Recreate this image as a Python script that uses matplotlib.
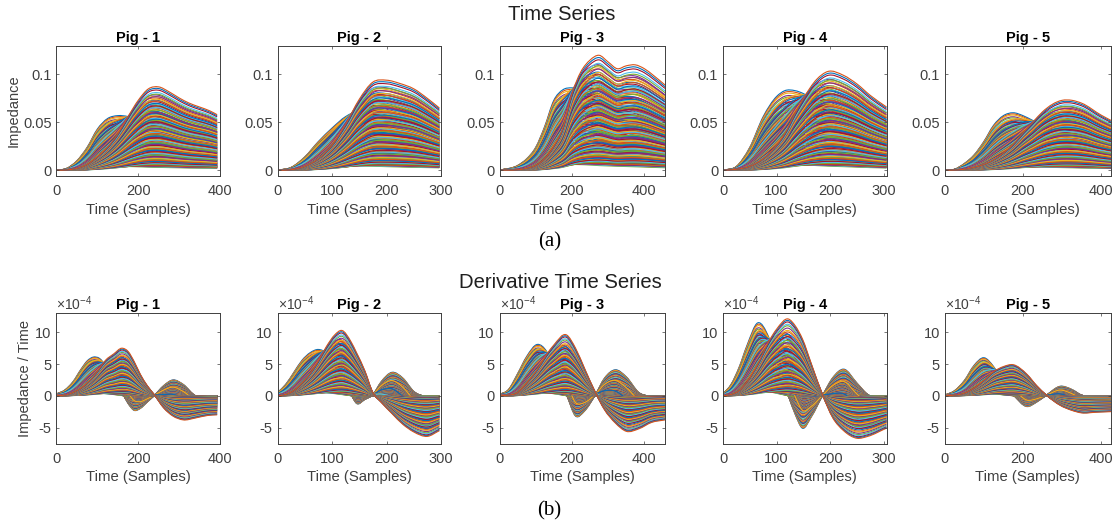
import numpy as np
import matplotlib
matplotlib.use("Agg")
import matplotlib.pyplot as plt
from matplotlib.path import Path
from matplotlib.patches import PathPatch

plt.rcParams['font.family'] = ['Liberation Sans', 'DejaVu Sans']
plt.rcParams['axes.unicode_minus'] = False
plt.rcParams['mathtext.fontset'] = 'custom'
plt.rcParams['mathtext.rm'] = 'Liberation Sans'
plt.rcParams['mathtext.it'] = 'Liberation Sans'

# NOTE: the hundreds of overlapping traces cannot be read one by one. What is read from
# the picture is each panel's two bounding curves (early "S" and late "M"); the line
# family below is an estimated spread between them, not recovered per-trace data.
TITLES = ["Pig - 1", "Pig - 2", "Pig - 3", "Pig - 4", "Pig - 5"]
XLIMS = [400, 300, 457, 305, 425]
XTICKS = [[0, 200, 400], [0, 100, 200, 300], [0, 200, 400], [0, 100, 200, 300], [0, 200, 400]]

# Top row: impedance
P1_X = [0, 25, 50, 75, 100, 125, 150, 175, 200, 225, 250, 275, 300, 325, 350, 375, 393]
P1_S = [0, .002, .010, .024, .043, .054, .057, .056, .052, .047, .043, .040, .037, .034, .032, .030, .028]
P1_M = [0, .0003, .002, .006, .014, .024, .038, .056, .073, .085, .087, .082, .0755, .070, .066, .062, .058]
P2_X = [0, 25, 50, 75, 100, 125, 150, 175, 200, 225, 250, 275, 297]
P2_S = [0, .003, .014, .030, .044, .056, .062, .060, .054, .049, .044, .040, .036]
P2_M = [0, .0005, .004, .012, .026, .048, .074, .092, .094, .0905, .085, .075, .065]
P3_X = [0, 50, 75, 100, 125, 150, 175, 200, 225, 250, 275, 300, 325, 350, 375, 400, 425, 457]
P3_S = [0, .005, .012, .024, .046, .073, .084, .086, .084, .078, .070, .065, .060, .056, .052, .048, .043, .038]
P3_M = [0, .0005, .002, .005, .012, .025, .044, .080, .103, .115, .120, .113, .106, .109, .110, .106, .099, .089]
P4_X = [0, 25, 50, 75, 100, 115, 135, 150, 175, 195, 225, 250, 275, 305]
P4_S = [0, .004, .024, .056, .077, .083, .083, .080, .070, .062, .054, .047, .040, .034]
P4_M = [0, .001, .004, .012, .026, .038, .060, .075, .095, .103, .099, .090, .078, .066]
P5_X = [0, 25, 50, 75, 100, 125, 150, 175, 200, 225, 250, 300, 325, 350, 400, 425]
P5_S = [0, .001, .007, .016, .030, .047, .057, .060, .057, .052, .047, .040, .037, .034, .028, .026]
P5_M = [0, .0002, .001, .003, .006, .011, .018, .027, .039, .050, .061, .073, .073, .070, .0575, .052]

# Bottom row: derivative, in units of 1e-4
D1_X = [0, 20, 40, 60, 75, 90, 105, 120, 140, 160, 175, 190, 205, 222, 240, 262, 285, 310, 340, 370, 393]
D1_S = [.3, .9, 2.2, 4.2, 5.5, 6.1, 5.9, 4.8, 2.8, .6, -1.2, -2.3, -2.0, -1.0, .1, 1.6, 2.5, 1.8, 0, 0, 0]
D1_M = [0, .1, .5, 1.2, 2.0, 3.0, 4.3, 5.6, 6.6, 7.5, 7.0, 5.4, 3.4, 1.6, .1, -1.9, -3.2, -3.8, -3.5, -3.1, -3.0]
D2_X = [0, 15, 30, 45, 60, 75, 90, 105, 118, 135, 145, 160, 175, 190, 210, 230, 250, 275, 297]
D2_S = [.5, 1.8, 3.7, 5.6, 6.8, 7.3, 6.7, 4.8, 2.8, .2, -1.2, -.6, .2, 2.2, 3.7, 2.8, .7, -.2, -.3]
D2_M = [0, .2, .8, 2.0, 3.5, 5.5, 7.8, 9.6, 10.3, 8.5, 6.8, 4.0, .5, -1.0, -2.8, -4.5, -5.7, -6.4, -5.5]
D3_X = [0, 25, 50, 75, 105, 130, 150, 185, 210, 235, 265, 290, 320, 350, 385, 420, 457]
D3_S = [.2, 1.0, 3.5, 6.2, 8.1, 7.0, 4.5, .2, -3.2, -2.4, .2, 2.8, 4.1, 3.0, .5, -.1, -.1]
D3_M = [0, .1, .5, 2.0, 4.2, 6.5, 8.0, 9.6, 7.5, 4.3, .5, -2.2, -4.3, -5.6, -5.2, -4.2, -3.8]
D4_X = [0, 15, 30, 45, 65, 85, 100, 122, 135, 148, 165, 186, 205, 225, 250, 270, 305]
D4_S = [.3, 1.8, 4.5, 8.0, 11.5, 9.3, 5.5, 0, -3.0, -5.1, -3.3, .1, 2.9, 4.2, 2.0, .2, -.3]
D4_M = [0, .2, .8, 2.2, 5.0, 8.5, 10.5, 12.1, 11.0, 9.0, 5.0, .1, -3.5, -5.5, -6.7, -6.4, -5.1]
D5_X = [0, 25, 50, 75, 100, 125, 150, 175, 210, 235, 260, 295, 325, 350, 385, 425]
D5_S = [.1, .8, 2.4, 4.8, 6.0, 4.6, 2.0, .2, -1.7, -1.0, .1, 1.5, 1.0, .1, -.1, -.2]
D5_M = [0, .1, .4, 1.2, 2.4, 3.8, 4.6, 4.9, 3.4, 1.6, .1, -1.5, -2.3, -2.7, -2.6, -2.5]

TOP_CURVES = [(P1_X, P1_S, P1_M), (P2_X, P2_S, P2_M), (P3_X, P3_S, P3_M), (P4_X, P4_S, P4_M), (P5_X, P5_S, P5_M)]
BOT_CURVES = [(D1_X, D1_S, D1_M), (D2_X, D2_S, D2_M), (D3_X, D3_S, D3_M), (D4_X, D4_S, D4_M), (D5_X, D5_S, D5_M)]

# Estimated line family: magnitude levels and shares of the early curve
SCALE = [1.0, .98, .96, .93, .91, .88, .85, .83, .8, .77, .75, .72, .69, .66, .64, .61, .58, .55, .52, .5,
         .47, .44, .41, .39, .36, .33, .31, .28, .26, .24, .22, .2, .18, .16, .14, .12, .105, .09, .08, .07]
EARLY = [1.0, .8, .6, .4, .2, 0.0]

COLORS = ['#0072BD', '#D95319', '#EDB120', '#7E2F8E', '#77AC30', '#4DBEEE', '#A2142F']
GREY = '#404040'
W, H = 1113, 529
AX_X = [(56.5, 220), (277.5, 441), (499.5, 665), (723, 886.5), (944.7, 1111)]


def smooth_path(x, y):
    x = np.asarray(x, float)
    y = np.asarray(y, float)
    m = np.gradient(y, x)
    verts = [(x[0], y[0])]
    codes = [Path.MOVETO]
    for i in range(len(x) - 1):
        d = (x[i + 1] - x[i]) / 3
        verts += [(x[i] + d, y[i] + m[i] * d), (x[i + 1] - d, y[i + 1] - m[i + 1] * d), (x[i + 1], y[i + 1])]
        codes += [Path.CURVE4] * 3
    return Path(verts, codes)


def panel(i, top, bottom, curves, ylim, yticks, yticklabels, ylabel=None, exponent=False):
    x0, x1 = AX_X[i]
    ax = fig.add_axes([x0 / W, 1 - bottom / H, (x1 - x0) / W, (bottom - top) / H])
    xs, early, main = curves
    early = np.asarray(early, float)
    main = np.asarray(main, float)
    k = 0
    for g, w in enumerate(EARLY):
        levels = SCALE if g == 0 else SCALE[::-1]
        for s in levels:
            ys = s * (w * early + (1 - w) * main)
            ax.add_patch(PathPatch(smooth_path(xs, ys), fill=False, edgecolor=COLORS[k % 7], lw=0.8))
            k += 1
    ax.set_xlim(0, XLIMS[i])
    ax.set_ylim(*ylim)
    ax.set_xticks(XTICKS[i])
    ax.set_yticks(yticks)
    ax.set_yticklabels(yticklabels)
    ax.tick_params(direction='in', top=True, right=True, length=2, width=0.5, colors=GREY,
                   labelsize=10.5)
    ax.tick_params(axis='x', pad=5.5)
    ax.tick_params(axis='y', pad=3.5)
    for sp in ax.spines.values():
        sp.set_color(GREY)
        sp.set_linewidth(0.7)
    ax.set_xlabel("Time (Samples)", fontsize=10.7, color=GREY, labelpad=3.5)
    ax.set_title(TITLES[i], fontsize=10.5, fontweight='bold', color='black', pad=3)
    if ylabel:
        ax.set_ylabel(ylabel, fontsize=10.5, color=GREY, labelpad=2)
    if exponent:
        ax.text(0.0, 1.0, r'$\times 10^{-4}$', transform=ax.transAxes, fontsize=10, color=GREY,
                ha='left', va='bottom')
    return ax


fig = plt.figure(figsize=(W / 100, H / 100), dpi=100)
for i in range(5):
    panel(i, 45.7, 176, TOP_CURVES[i], (-0.006, 0.13), [0, 0.05, 0.1], ['0', '0.05', '0.1'],
          ylabel='Impedance' if i == 0 else None)
    panel(i, 313.3, 444, BOT_CURVES[i], (-7.6, 13), [-5, 0, 5, 10], ['-5', '0', '5', '10'],
          ylabel='Impedance / Time' if i == 0 else None, exponent=True)

fig.text(562 / W, 1 - 14 / H, 'Time Series', fontsize=14.6, color='#202020', ha='center', va='center')
fig.text(560 / W, 1 - 282 / H, 'Derivative Time Series', fontsize=14.6, color='#202020', ha='center', va='center')
fig.text(550 / W, 1 - 242 / H, '(a)', fontsize=15, family='Liberation Serif', color='black', ha='center', va='center')
fig.text(549 / W, 1 - 511 / H, '(b)', fontsize=15, family='Liberation Serif', color='black', ha='center', va='center')

fig.savefig('out.png', dpi=100)
